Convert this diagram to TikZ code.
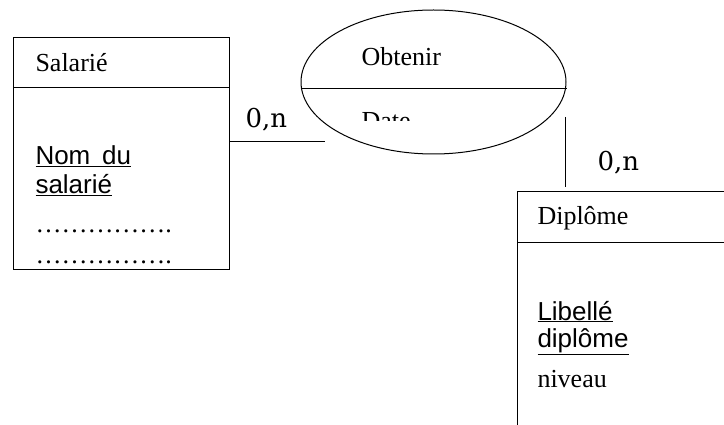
\documentclass[tikz,border=0pt]{standalone}
\usepackage{fontspec}
\setmainfont{Liberation Serif}
\newfontfamily\arialfont{Liberation Sans}
\newfontfamily\cardfont{DejaVu Serif}
\usetikzlibrary{shapes.geometric}
\begin{document}
\begin{tikzpicture}[x=1pt, y=-1pt, line width=1pt,
  every node/.style={inner sep=0pt, font=\fontsize{26}{30}\selectfont},
  txt/.style={anchor=base west},
  attr/.style={anchor=base west, font=\arialfont\fontsize{26}{30}\selectfont},
  card/.style={anchor=base west, font=\cardfont\fontsize{26}{30}\selectfont},
  entite/.style={draw, rectangle, anchor=north west}]
  \clip (0,0) rectangle (724,425);

  % Salarie
  \node[entite, minimum width=216pt, minimum height=232pt] (salarie) at (13,37) {};
  \draw (salarie.west |- 0,88) -- (salarie.east |- 0,88);
  \node[txt] (sal) at (35,72) {Salarié};
  \node[attr] (nom1) at (35,165) {\underline{Nom\hspace{0.45em}du}};
  \node[attr] (nom2) at (35,194) {\underline{salarié}};
  \node[txt] (pts1) at (35,233) {…………….};
  \node[txt] (pts2) at (35,264) {…………….};

  % Obtenir
  \node[draw, ellipse, minimum width=265pt, minimum height=144pt] (obtenir) at (433.5,82) {};
  \draw ([yshift=-7pt]obtenir.west) -- ([yshift=-7pt]obtenir.east);
  \node[txt] (obt) at (361,66) {Obtenir};
  \begin{scope}
    \clip (300,90) rectangle (570,121);
    \node[txt] (date) at (361,130) {Date};
  \end{scope}

  % Diplome
  \node[entite, minimum width=300pt, minimum height=300pt] (diplome) at (517,191) {};
  \draw (diplome.west |- 0,243) -- (diplome.east |- 0,243);
  \node[txt] (dip) at (537,225) {Diplôme};
  \node[attr] (lib1) at (537,320) {\underline{Libellé}};
  \node[attr] (lib2) at (537,347) {\underline{diplôme}};
  \node[txt] (niv) at (537,388) {niveau};

  % liens
  \coordinate (a1) at (325,142);
  \draw (salarie.east |- a1) -- (a1);
  \node[card] (c1) at (245,128) {0,n};
  \coordinate (b1) at (565,117);
  \coordinate (b2) at (565,187);
  \draw (b1) -- (b2);
  \node[card] (c2) at (597,171) {0,n};
\end{tikzpicture}
\end{document}
